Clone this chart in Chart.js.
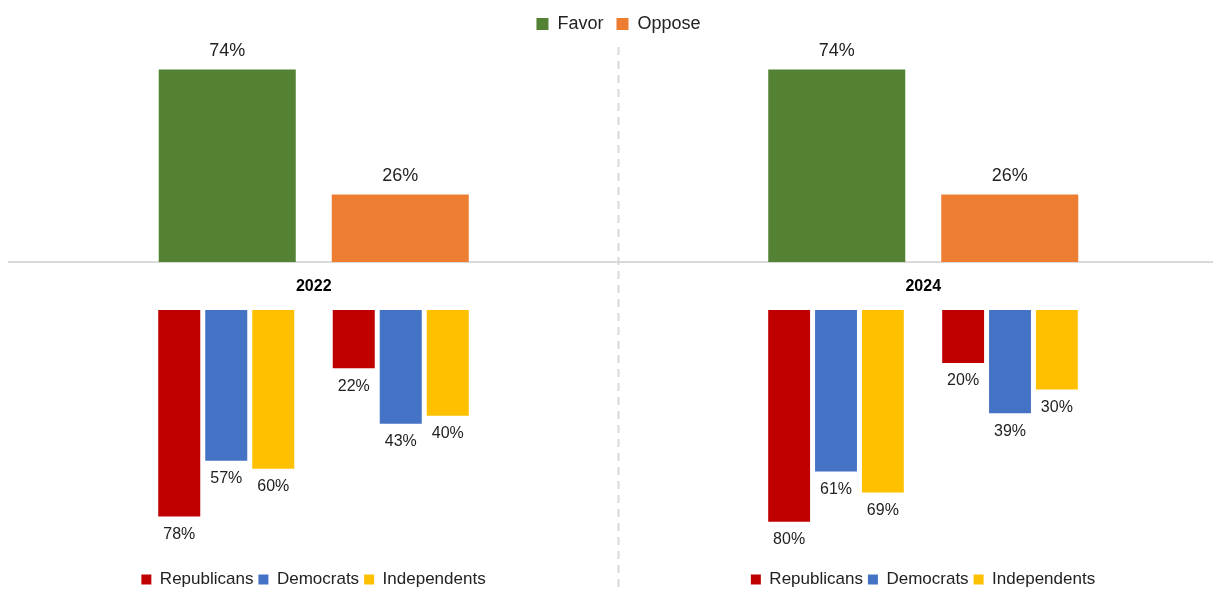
<!DOCTYPE html>
<html>
<head>
<meta charset="utf-8">
<script src="https://cdn.jsdelivr.net/npm/chart.js@4"></script>
<style>
  html, body { margin: 0; padding: 0; background: #fff; overflow: hidden; }
  #wrap { position: relative; width: 1213px; height: 595px; overflow: hidden; }
  canvas { position: absolute; }
</style>
</head>
<body>
<div id="wrap">
  <canvas id="topChart" width="1228" height="595" style="left:0;top:0"></canvas>
  <canvas id="left" width="627" height="292" style="left:0;top:306px"></canvas>
  <canvas id="right" width="608" height="292" style="left:619px;top:306px"></canvas>
</div>
<script>
// data
const years = ['2022', '2024'];
const favor = [74, 74];
const oppose = [26, 26];

const positions = ['Favor', 'Oppose'];
const parties = ['Republicans', 'Democrats', 'Independents'];
const rep2022 = [78, 22];
const dem2022 = [57, 43];
const ind2022 = [60, 40];
const rep2024 = [80, 20];
const dem2024 = [61, 39];
const ind2024 = [69, 30];

const FONT = "'Liberation Sans', Arial, sans-serif";
const TEXT = '#222222';
const partyColors = ['#C00000', '#4472C4', '#FFC000'];

// % labels next to the bar ends
const valueLabels = {
  id: 'valueLabels',
  afterDatasetsDraw(chart, args, opts) {
    const ctx = chart.ctx;
    ctx.save();
    ctx.font = opts.size + 'px ' + FONT;
    ctx.fillStyle = TEXT;
    ctx.textAlign = 'center';
    ctx.textBaseline = 'middle';
    chart.data.datasets.forEach((ds, i) => {
      chart.getDatasetMeta(i).data.forEach((bar, j) => {
        const y = opts.below ? bar.y + opts.offset : bar.y - opts.offset;
        ctx.fillText(ds.data[j] + '%', bar.x, y);
      });
    });
    ctx.restore();
  }
};

// dashed divider between the two years
const divider = {
  id: 'divider',
  beforeDatasetsDraw(chart) {
    const x = chart.scales.x;
    const mid = (x.getPixelForValue(0) + x.getPixelForValue(1)) / 2;
    const ctx = chart.ctx;
    ctx.save();
    ctx.strokeStyle = '#d9d9d9';
    ctx.lineWidth = 2;
    ctx.setLineDash([8, 6]);
    ctx.beginPath();
    ctx.moveTo(mid, chart.chartArea.top + 4);
    ctx.lineTo(mid, 590);
    ctx.stroke();
    ctx.restore();
  }
};

new Chart(document.getElementById('topChart'), {
  type: 'bar',
  data: {
    labels: years,
    datasets: [
      { label: 'Favor', data: favor, backgroundColor: '#548235' },
      { label: 'Oppose', data: oppose, backgroundColor: '#ED7D31' }
    ]
  },
  options: {
    responsive: false,
    animation: false,
    categoryPercentage: 0.5677,
    barPercentage: 0.792,
    layout: { padding: { top: 2, left: 9, right: 0, bottom: 283.8 } },
    scales: {
      x: {
        grid: { display: false, drawTicks: false },
        border: { display: true, color: '#d9d9d9', width: 2 },
        ticks: { padding: 15, color: '#000', font: { family: FONT, size: 16, weight: 'bold' } }
      },
      y: { display: false, min: 0, max: 84.2 }
    },
    plugins: {
      legend: {
        position: 'top',
        labels: { boxWidth: 12, boxHeight: 12, padding: 13, color: TEXT, font: { family: FONT, size: 18 } }
      },
      tooltip: { enabled: false },
      valueLabels: { size: 18, offset: 18, below: false }
    }
  },
  plugins: [valueLabels, divider]
});

function spacer(pos, w) {
  return {
    position: pos, display: true,
    ticks: { display: false }, grid: { display: false }, border: { display: false },
    afterFit(s) { s.width = w; }
  };
}

function partyChart(id, rep, dem, ind, padX) {
  const y = spacer('left', padX);
  Object.assign(y, { reverse: true, min: 0, max: 96.75 });
  new Chart(document.getElementById(id), {
    type: 'bar',
    data: {
      labels: positions,
      datasets: [
        { label: parties[0], data: rep, backgroundColor: partyColors[0] },
        { label: parties[1], data: dem, backgroundColor: partyColors[1] },
        { label: parties[2], data: ind, backgroundColor: partyColors[2] }
      ]
    },
    options: {
      responsive: false,
      animation: false,
      categoryPercentage: 0.808,
      barPercentage: 0.894,
      layout: { padding: { top: 4, left: 0, right: 0, bottom: 0 } },
      scales: {
        x: { display: false },
        y: y,
        yRight: spacer('right', padX)
      },
      plugins: {
        legend: {
          position: 'bottom',
          labels: { boxWidth: 10, boxHeight: 10, padding: 5, color: TEXT, font: { family: FONT, size: 17 } }
        },
        tooltip: { enabled: false },
        valueLabels: { size: 16, offset: 18, below: true }
      }
    },
    plugins: [valueLabels]
  });
}

partyChart('left', rep2022, dem2022, ind2022, 139);
partyChart('right', rep2024, dem2024, ind2024, 130);
</script>
</body>
</html>
